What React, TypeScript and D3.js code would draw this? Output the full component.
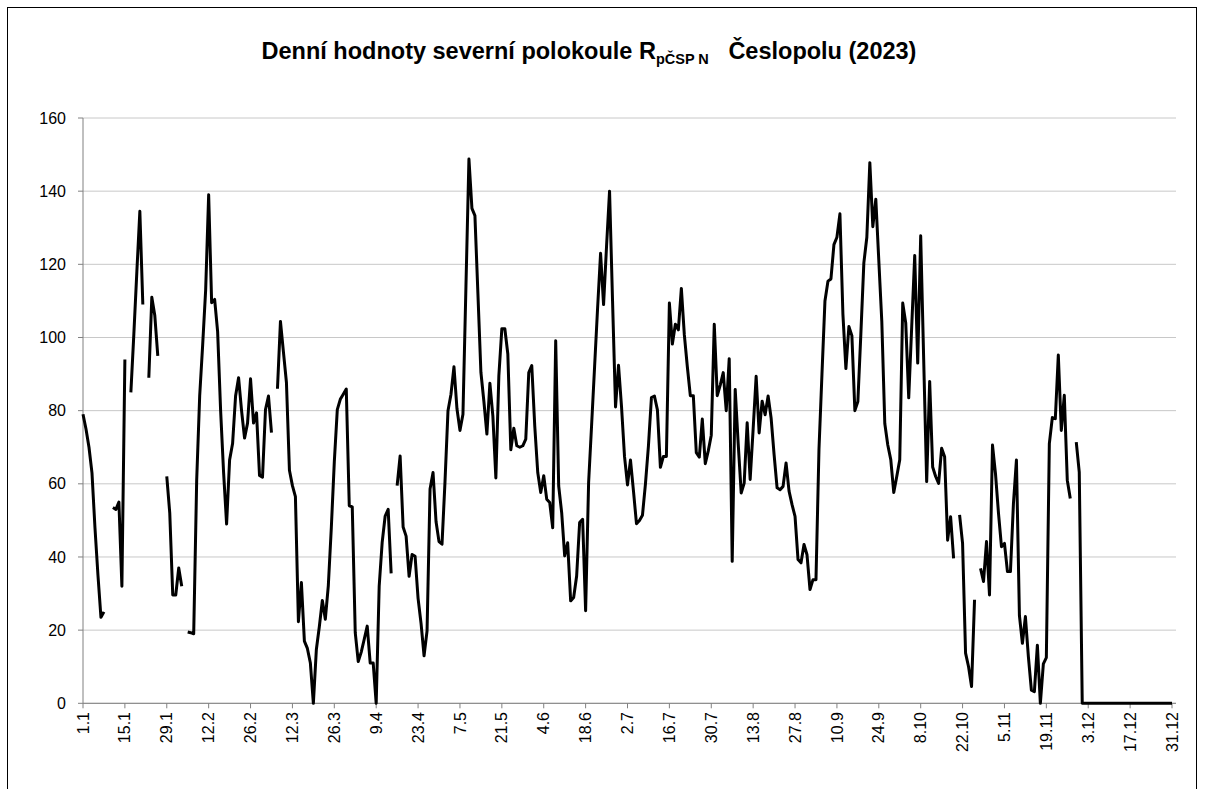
import React from "react";
import * as d3 from "d3";

// daily values, 1.1. .. 31.12. (null = no observation)
const dailyValues: (number | null)[] = [
  79, 75, 70, 63, 48, 35, 23.5, 25, null, null,
  53.5, 53, 55, 32, 94, null, 85, 101, 118, 134.5,
  109, null, 89, 111, 106, 95, null, null, 62, 52,
  29.6, 29.6, 37, 32, null, 19.5, 19.3, 19, 61, 84,
  98, 113, 139, 109.5, 110.4, 101.6, 80, 63, 49, 66.5,
  71, 84, 89, 80, 72.5, 76.6, 88.7, 76.6, 79.4, 62.3,
  61.8, 80.3, 84, 74, null, 86, 104.4, 96, 87.7, 63.7,
  59.5, 56.5, 22.3, 33, 17, 15, 11, 0, 14.7, 21,
  28.1, 23, 32.2, 48, 66, 80.3, 83.1, 84.5, 85.9, 54,
  53.7, 19.3, 11.4, 14, 17.5, 21.1, 11, 11, 0, 32,
  44, 51.2, 53, 35.5, null, 59.5, 67.6, 48.2, 45.7, 34.7,
  40.7, 40.2, 28.7, 21.8, 13, 19.8, 58.6, 63.1, 49.7, 44.2,
  43.5, 60.6, 80, 84.5, 92, 80.5, 74.6, 79, 114, 148.8,
  135.3, 133.3, 112, 90.5, 82.5, 73.6, 87.5, 78.5, 61.6, 89.5,
  102.4, 102.4, 95.5, 69.3, 75.2, 70.4, 70, 70.4, 72.2, 90.4,
  92.3, 75.8, 63.1, 57.6, 62.2, 55.8, 54.9, 48, 99.1, 59.4,
  52.1, 40.3, 43.9, 28, 28.9, 34.8, 49.4, 50.3, 25.3, 60.3,
  76, 92, 108, 123, 109, 125, 140, 110, 81, 92.4,
  81.1, 67.5, 59.7, 66.5, 58, 49.1, 50, 51.4, 60, 70.4,
  83.6, 84, 80.2, 64.5, 67.5, 67.5, 109.4, 98.2, 103.6, 102.1,
  113.4, 100.7, 92, 84.1, 84.1, 68.5, 67.3, 77.7, 65.5, 69,
  73.3, 103.6, 84.1, 87, 90.4, 80, 94.2, 38.8, 85.8, 71,
  57.5, 60.2, 76.7, 61.2, 75, 89.4, 73.9, 82.6, 78.9, 84,
  78, 68, 58.9, 58.4, 59.3, 65.7, 58, 54.3, 51.1, 39.3,
  38.4, 43.4, 40.6, 31.1, 33.8, 33.8, 69.4, 90, 110, 115.4,
  116, 125.4, 127.4, 133.8, 106.4, 91.5, 103, 100.5, 80, 82.5,
  101, 120.4, 127.4, 147.8, 130.3, 137.8, 121, 104.4, 76.5, 70.6,
  66.6, 57.6, 62, 66.6, 109.4, 104, 83.5, 103, 122.4, 93,
  127.8, 94, 60.6, 88, 64.6, 62, 60.1, 69.7, 67.4, 44.6,
  51, 39.6, null, 51.5, 43.7, 13.7, 10, 4.6, 28.3, null,
  36.9, 33.3, 44.2, 29.6, 70.6, 62.8, 52, 42.8, 43.7, 36,
  36, 54.6, 66.5, 24, 16.4, 23.7, 12.7, 3.6, 3.2, 15.9,
  0, 10.8, 12.5, 71, 78.1, 77.8, 95.2, 74.6, 84.2, 61,
  56, null, 71.4, 63.2, 0, 0, 0, 0, 0, 0,
  0, 0, 0, 0, 0, 0, 0, 0, 0, 0,
  0, 0, 0, 0, 0, 0, 0, 0, 0, 0,
  0, 0, 0, 0, 0,
];

// one label every 14 days
const tickLabels = [
  "1.1", "15.1", "29.1", "12.2", "26.2", "12.3", "26.3", "9.4", "23.4",
  "7.5", "21.5", "4.6", "18.6", "2.7", "16.7", "30.7", "13.8", "27.8",
  "10.9", "24.9", "8.10", "22.10", "5.11", "19.11", "3.12", "17.12", "31.12",
];
const yTicks = [0, 20, 40, 60, 80, 100, 120, 140, 160];

const W = 1205;
const H = 789;
const FONT = "'Liberation Sans', Arial, sans-serif";

export default function App() {
  const x = d3.scaleLinear().domain([0, 364]).range([83, 1172]);
  const y = d3.scaleLinear().domain([0, 160]).range([703.3, 118]);
  const gridRight = 1176;

  const line = d3
    .line<number | null>()
    .defined((d) => d != null)
    .x((_, i) => x(i))
    .y((d) => y(d as number));

  return (
    <svg
      width={W}
      height={H}
      style={{ position: "absolute", left: 0, top: 0, background: "#fff" }}
      fontFamily={FONT}
    >
      <rect x={0} y={0} width={W} height={H} fill="#fff" />
      {/* chart frame */}
      <rect x={7.5} y={7.5} width={1189} height={800} fill="none" stroke="#000" strokeWidth={1} />

      {/* title */}
      <text x={589} y={59} textAnchor="middle" fontSize={23.5} fontWeight="bold" fill="#000">
        Denní hodnoty severní polokoule R
        <tspan fontSize={14.5} dy={5}>pČSP N</tspan>
        <tspan fontSize={23.5} dy={-5}>{"\u00a0\u00a0\u00a0Česlopolu (2023)"}</tspan>
      </text>

      {/* gridlines */}
      {yTicks.map((t) => (
        <line key={"g" + t} x1={x(0)} x2={gridRight} y1={y(t)} y2={y(t)} stroke="#c8c8c8" strokeWidth={1} />
      ))}

      {/* y axis */}
      <line x1={x(0)} x2={x(0)} y1={y(160)} y2={y(0)} stroke="#808080" strokeWidth={1} />
      {yTicks.map((t) => (
        <g key={"y" + t}>
          <line x1={x(0) - 5} x2={x(0)} y1={y(t)} y2={y(t)} stroke="#808080" />
          <text x={66} y={y(t)} dy="0.35em" textAnchor="end" fontSize={16} fill="#000">
            {t}
          </text>
        </g>
      ))}

      {/* x axis */}
      <line x1={x(0)} x2={gridRight} y1={y(0)} y2={y(0)} stroke="#808080" strokeWidth={1} />
      {tickLabels.map((lab, i) => {
        const tx = x(i * 14);
        return (
          <g key={"x" + lab}>
            <line x1={tx} x2={tx} y1={y(0)} y2={y(0) + 5} stroke="#808080" />
            <text
              transform={`translate(${tx},712) rotate(-90)`}
              dy="0.35em"
              textAnchor="end"
              fontSize={16}
              fill="#000"
            >
              {lab}
            </text>
          </g>
        );
      })}

      {/* series */}
      <path
        d={line(dailyValues) || ""}
        fill="none"
        stroke="#000"
        strokeWidth={3}
        strokeLinejoin="round"
      />
    </svg>
  );
}
